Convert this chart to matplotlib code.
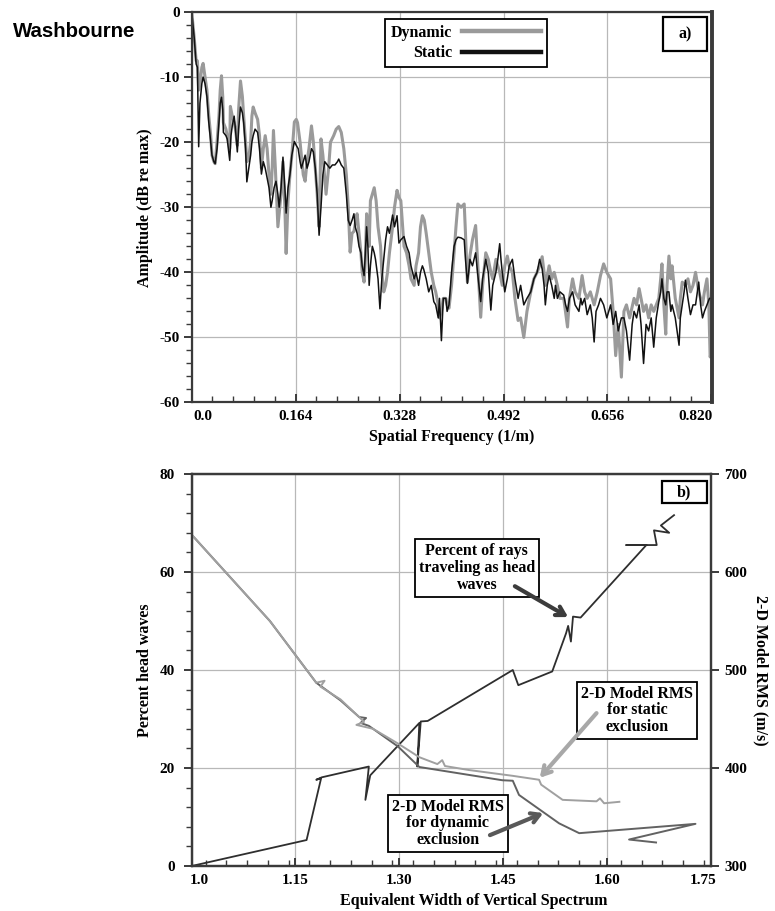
"""
Washbourne figure: a) amplitude spectra for dynamic / static exclusion,
b) percent head waves and 2-D model RMS vs equivalent width of vertical spectrum.
"""
import matplotlib
matplotlib.use("Agg")
import matplotlib.pyplot as plt
from matplotlib.ticker import MultipleLocator
from matplotlib.patches import Rectangle
from matplotlib.transforms import offset_copy

# --------------------------------------------------------------------------- #
# panel a) -- spectra (values read off the picture)
freq_dyn = [0.000, 0.004, 0.007, 0.009, 0.011, 0.013, 0.016, 0.018, 0.021, 0.024,
            0.027, 0.030, 0.032, 0.035, 0.037, 0.040, 0.043, 0.045, 0.047, 0.049,
            0.050, 0.054, 0.056, 0.060, 0.061, 0.064, 0.067, 0.069, 0.072, 0.074,
            0.077, 0.080, 0.082, 0.085, 0.087, 0.090, 0.093, 0.095, 0.097, 0.100,
            0.104, 0.107, 0.110, 0.113, 0.116, 0.119, 0.122, 0.125, 0.127, 0.129,
            0.132, 0.136, 0.138, 0.141, 0.144, 0.147, 0.149, 0.152, 0.155, 0.158,
            0.162, 0.165, 0.167, 0.171, 0.173, 0.176, 0.179, 0.182, 0.185, 0.189,
            0.192, 0.195, 0.198, 0.201, 0.204, 0.207, 0.210, 0.212, 0.216, 0.219,
            0.224, 0.228, 0.232, 0.236, 0.240, 0.244, 0.247, 0.250, 0.253, 0.256,
            0.259, 0.261, 0.264, 0.267, 0.269, 0.272, 0.274, 0.276, 0.278, 0.280,
            0.282, 0.285, 0.288, 0.291, 0.294, 0.298, 0.300, 0.303, 0.306, 0.309,
            0.312, 0.317, 0.320, 0.324, 0.327, 0.330, 0.335, 0.339, 0.343, 0.346,
            0.351, 0.354, 0.358, 0.361, 0.364, 0.367, 0.370, 0.374, 0.378, 0.382,
            0.385, 0.389, 0.391, 0.394, 0.397, 0.401, 0.403, 0.406, 0.410, 0.414,
            0.417, 0.420, 0.425, 0.430, 0.432, 0.435, 0.439, 0.443, 0.448, 0.451,
            0.456, 0.459, 0.464, 0.468, 0.472, 0.475, 0.480, 0.483, 0.486, 0.490,
            0.494, 0.498, 0.501, 0.506, 0.510, 0.515, 0.519, 0.524, 0.529, 0.535,
            0.540, 0.545, 0.549, 0.553, 0.556, 0.558, 0.564, 0.568, 0.572, 0.577,
            0.581, 0.587, 0.593, 0.596, 0.601, 0.605, 0.611, 0.616, 0.620, 0.624,
            0.629, 0.635, 0.640, 0.645, 0.650, 0.655, 0.661, 0.665, 0.669, 0.673,
            0.678, 0.682, 0.686, 0.691, 0.698, 0.702, 0.706, 0.709, 0.713, 0.717,
            0.721, 0.725, 0.729, 0.733, 0.737, 0.740, 0.742, 0.745, 0.748, 0.750,
            0.753, 0.756, 0.758, 0.763, 0.769, 0.771, 0.774, 0.779, 0.783, 0.787,
            0.791, 0.795, 0.800, 0.806, 0.809, 0.813, 0.816, 0.818, 0.821]
amp_dyn = [0.0, -4.0, -7.5, -7.5, -12.0, -11.0, -8.5, -7.9, -10.0, -12.0,
           -16.0, -19.0, -22.0, -23.0, -23.3, -20.0, -16.0, -12.0, -9.8, -13.0,
           -17.0, -18.0, -19.0, -21.0, -14.5, -16.0, -17.0, -18.0, -20.5, -15.0,
           -10.6, -13.0, -16.0, -20.0, -23.0, -22.5, -20.0, -16.0, -14.6, -15.5,
           -16.5, -19.0, -24.0, -21.0, -19.0, -21.0, -25.0, -28.0, -24.0, -18.2,
           -24.0, -33.0, -31.0, -28.0, -23.0, -30.0, -37.1, -29.0, -25.0, -22.0,
           -16.9, -16.5, -17.0, -20.0, -22.0, -25.0, -26.0, -23.0, -21.0, -17.5,
           -20.0, -24.0, -28.0, -33.0, -19.5, -22.0, -25.5, -28.0, -24.0, -20.0,
           -19.0, -18.0, -17.6, -18.5, -21.0, -25.0, -30.0, -36.9, -34.0, -33.7,
           -32.0, -31.0, -34.0, -37.0, -40.0, -41.5, -38.0, -31.0, -33.0, -36.0,
           -29.0, -28.0, -27.0, -29.0, -33.0, -36.0, -40.0, -43.0, -42.0, -40.0,
           -37.0, -33.0, -30.0, -27.4, -28.5, -29.0, -36.0, -37.0, -39.0, -41.0,
           -42.0, -39.0, -37.0, -33.0, -31.3, -32.0, -34.0, -37.0, -40.0, -42.0,
           -43.0, -45.0, -47.0, -46.0, -44.0, -44.0, -45.0, -45.5, -42.0, -37.0,
           -33.0, -29.5, -30.0, -29.5, -34.0, -41.5, -37.5, -35.0, -32.8, -38.0,
           -46.9, -42.0, -37.0, -38.0, -40.0, -41.0, -38.0, -39.0, -40.0, -42.0,
           -39.0, -37.5, -39.0, -40.0, -44.0, -47.4, -47.0, -50.0, -46.0, -43.0,
           -41.0, -40.0, -39.0, -37.6, -40.0, -42.0, -39.0, -41.0, -40.0, -42.0,
           -44.0, -44.0, -48.4, -44.0, -41.0, -43.0, -44.0, -40.5, -43.0, -44.0,
           -43.0, -45.0, -43.0, -40.5, -38.7, -40.0, -41.0, -46.0, -52.8, -48.0,
           -56.1, -46.0, -45.0, -47.0, -44.0, -45.0, -42.5, -44.0, -46.0, -45.0,
           -47.0, -45.0, -46.0, -45.0, -44.0, -41.0, -38.7, -45.0, -49.5, -42.0,
           -37.5, -41.0, -39.0, -44.0, -47.0, -44.0, -41.5, -42.0, -41.0, -43.0,
           -42.0, -40.0, -43.0, -45.0, -43.0, -41.0, -45.0, -53.0, -52.0]

freq_sta = [0.000, 0.004, 0.007, 0.009, 0.011, 0.013, 0.016, 0.018, 0.021, 0.024,
            0.027, 0.030, 0.032, 0.035, 0.037, 0.040, 0.043, 0.045, 0.047, 0.049,
            0.050, 0.054, 0.056, 0.060, 0.062, 0.064, 0.067, 0.069, 0.072, 0.074,
            0.077, 0.080, 0.082, 0.085, 0.087, 0.090, 0.093, 0.095, 0.097, 0.100,
            0.104, 0.107, 0.110, 0.113, 0.116, 0.119, 0.122, 0.125, 0.127, 0.130,
            0.133, 0.136, 0.138, 0.141, 0.144, 0.147, 0.149, 0.152, 0.155, 0.158,
            0.162, 0.165, 0.168, 0.171, 0.173, 0.176, 0.179, 0.182, 0.185, 0.189,
            0.192, 0.195, 0.198, 0.201, 0.204, 0.207, 0.210, 0.214, 0.218, 0.222,
            0.226, 0.230, 0.232, 0.236, 0.240, 0.244, 0.247, 0.250, 0.253, 0.256,
            0.258, 0.261, 0.264, 0.267, 0.269, 0.272, 0.274, 0.276, 0.278, 0.280,
            0.282, 0.285, 0.288, 0.290, 0.294, 0.297, 0.300, 0.303, 0.306, 0.309,
            0.312, 0.317, 0.320, 0.324, 0.327, 0.330, 0.335, 0.339, 0.343, 0.346,
            0.351, 0.354, 0.358, 0.361, 0.364, 0.366, 0.370, 0.374, 0.378, 0.382,
            0.385, 0.389, 0.391, 0.394, 0.397, 0.401, 0.403, 0.406, 0.410, 0.414,
            0.417, 0.420, 0.425, 0.430, 0.432, 0.435, 0.437, 0.439, 0.443, 0.448,
            0.451, 0.456, 0.459, 0.464, 0.468, 0.472, 0.475, 0.480, 0.483, 0.486,
            0.488, 0.490, 0.494, 0.498, 0.501, 0.506, 0.510, 0.515, 0.519, 0.524,
            0.529, 0.535, 0.540, 0.545, 0.549, 0.553, 0.556, 0.558, 0.561, 0.564,
            0.568, 0.572, 0.574, 0.577, 0.581, 0.587, 0.590, 0.593, 0.596, 0.601,
            0.605, 0.611, 0.614, 0.616, 0.620, 0.624, 0.629, 0.632, 0.635, 0.638,
            0.642, 0.645, 0.650, 0.655, 0.661, 0.665, 0.669, 0.673, 0.678, 0.682,
            0.686, 0.691, 0.695, 0.698, 0.702, 0.706, 0.709, 0.713, 0.717, 0.721,
            0.725, 0.729, 0.733, 0.737, 0.740, 0.742, 0.745, 0.748, 0.750, 0.753,
            0.756, 0.758, 0.763, 0.769, 0.771, 0.774, 0.777, 0.779, 0.783, 0.787,
            0.791, 0.795, 0.800, 0.803, 0.806, 0.809, 0.813, 0.817, 0.821]
amp_sta = [0.0, -4.0, -8.0, -8.5, -20.7, -14.0, -11.0, -10.0, -11.0, -13.0,
           -17.0, -20.0, -22.0, -23.0, -23.3, -21.0, -17.0, -14.0, -13.1, -15.0,
           -18.5, -19.0, -19.5, -22.8, -19.0, -17.5, -16.0, -18.0, -21.5, -18.0,
           -14.6, -15.5, -17.0, -21.0, -26.1, -24.0, -22.0, -20.0, -19.0, -18.0,
           -18.5, -21.0, -24.9, -23.0, -24.0, -25.5, -27.0, -30.0, -29.0, -27.0,
           -26.0, -28.0, -30.0, -27.0, -22.3, -27.0, -30.9, -27.0, -25.0, -22.0,
           -19.9, -20.5, -21.0, -23.0, -24.0, -23.0, -22.0, -24.0, -23.0, -21.0,
           -21.5, -24.0, -28.0, -34.3, -30.0, -25.0, -23.0, -23.5, -24.0, -23.5,
           -23.5, -23.0, -22.6, -23.5, -24.0, -28.0, -32.0, -32.8, -32.0, -31.0,
           -33.0, -34.0, -36.0, -37.0, -39.0, -40.5, -37.0, -33.0, -36.0, -42.0,
           -39.0, -36.0, -37.0, -38.0, -41.0, -45.6, -41.0, -38.0, -35.0, -33.0,
           -34.0, -31.2, -33.0, -31.3, -35.5, -35.0, -34.5, -36.0, -37.0, -39.0,
           -41.0, -40.0, -42.0, -40.0, -39.0, -39.5, -41.0, -43.0, -42.0, -44.5,
           -45.0, -47.0, -44.0, -50.5, -44.0, -44.0, -46.0, -45.0, -40.0, -36.0,
           -35.0, -34.6, -34.7, -35.0, -38.0, -41.7, -40.0, -38.0, -39.0, -37.0,
           -40.0, -44.5, -41.0, -38.0, -40.0, -45.8, -42.0, -40.0, -38.0, -35.6,
           -38.0, -40.0, -43.0, -41.0, -39.0, -38.0, -41.0, -44.0, -42.0, -45.0,
           -44.0, -43.0, -41.0, -40.0, -38.0, -39.5, -42.0, -45.0, -42.0, -40.5,
           -42.0, -44.0, -42.0, -44.0, -43.0, -43.5, -45.0, -46.0, -44.0, -43.0,
           -45.0, -46.0, -44.0, -45.0, -44.0, -46.5, -45.0, -47.0, -50.7, -46.0,
           -45.0, -44.0, -45.0, -47.0, -45.0, -48.0, -46.0, -49.0, -47.0, -47.0,
           -49.0, -53.5, -48.0, -46.0, -47.0, -45.0, -48.0, -54.0, -48.0, -49.0,
           -47.0, -51.5, -47.0, -44.5, -43.0, -41.0, -44.0, -45.0, -43.0, -43.0,
           -46.0, -45.0, -47.0, -51.2, -47.0, -45.0, -43.0, -41.2, -44.0, -46.5,
           -45.0, -45.0, -41.5, -45.0, -47.0, -46.0, -45.0, -44.0, -44.0]

freq_ticks = [0.0, 0.164, 0.328, 0.492, 0.656, 0.820]
freq_labels = ["0.0", "0.164", "0.328", "0.492", "0.656", "0.820"]

# panel b) -- percent head waves (left axis) and RMS (right axis, m/s)
head_w = [1.000, 1.166, 1.187, 1.180, 1.188, 1.256, 1.251, 1.258, 1.329, 1.326,
          1.331, 1.341, 1.464, 1.472, 1.521, 1.541, 1.544, 1.548, 1.551, 1.562,
          1.657, 1.628, 1.672, 1.668, 1.690, 1.678, 1.697]
head_pct = [0.0, 5.3, 17.9, 17.6, 18.1, 20.3, 13.5, 18.5, 29.2, 20.3,
            29.5, 29.6, 40.0, 36.9, 39.7, 47.5, 49.0, 45.8, 50.9, 50.7,
            65.5, 65.5, 65.5, 68.5, 68.0, 69.5, 71.6]

rms_sta_w = [1.000, 1.113, 1.180, 1.192, 1.186, 1.215, 1.242, 1.249, 1.238, 1.262,
             1.298, 1.329, 1.355, 1.362, 1.366, 1.400, 1.464, 1.502, 1.505, 1.536,
             1.585, 1.590, 1.596, 1.618]
rms_sta = [638, 550, 487, 489, 483, 470, 452, 447, 444, 440,
           425, 411, 404, 408, 402, 398, 392, 388, 383, 367.5,
           366, 369, 364, 365.5]

rms_dyn_w = [1.000, 1.113, 1.180, 1.215, 1.242, 1.252, 1.244, 1.256, 1.298, 1.329,
             1.449, 1.464, 1.473, 1.507, 1.531, 1.560, 1.728, 1.632, 1.671]
rms_dyn = [638, 550, 487, 469, 452, 451, 446, 443, 422, 401,
           387.5, 387, 372.5, 355.5, 343.5, 333.5, 343, 327, 324]

width_ticks = [1.0, 1.15, 1.30, 1.45, 1.60, 1.75]
width_labels = ["1.0", "1.15", "1.30", "1.45", "1.60", "1.75"]

# --------------------------------------------------------------------------- #
plt.rcParams["font.family"] = ["Liberation Serif", "DejaVu Serif"]
plt.rcParams["font.weight"] = "bold"
plt.rcParams["axes.labelweight"] = "bold"
plt.rcParams["axes.unicode_minus"] = False

DYN_GRAY = "#9a9a9a"
AX_COL = "#3a3a3a"
GRID = "#b8b8b8"
W, H = 775, 911

fig = plt.figure(figsize=(W / 100, H / 100), dpi=100)


def px_axes(x0, y0, x1, y1):
    return fig.add_axes([x0 / W, 1 - y1 / H, (x1 - x0) / W, (y1 - y0) / H])


def style_axes(ax):
    ax.grid(True, which="major", color=GRID, lw=0.9)
    ax.set_axisbelow(True)
    for s in ax.spines.values():
        s.set_color(AX_COL)
        s.set_linewidth(1.6)
    ax.tick_params(axis="x", which="both", direction="in", colors=AX_COL,
                   labelcolor="black", labelsize=11, pad=5.5)
    ax.tick_params(axis="x", which="major", length=6, width=1.4)
    ax.tick_params(axis="x", which="minor", length=4, width=1.0)
    ax.tick_params(axis="y", which="both", direction="out", colors=AX_COL,
                   labelcolor="black", labelsize=11)
    ax.tick_params(axis="y", which="major", length=6, width=1.4)
    ax.tick_params(axis="y", which="minor", length=4, width=1.0)


def shift_label(lab, dx=0, dy=0):
    lab.set_transform(offset_copy(lab.get_transform(), fig=fig, x=dx, y=dy, units="dots"))


# ---- a) ---------------------------------------------------------------- #
ax1 = px_axes(191.7, 12, 711.7, 402.5)
style_axes(ax1)
ax1.tick_params(axis="y", pad=2.5)
ax1.plot(freq_dyn, amp_dyn, color=DYN_GRAY, lw=2.2, label="Dynamic")
ax1.plot(freq_sta, amp_sta, color="#111111", lw=1.1, label="Static")
ax1.set_xlim(0, 0.8205)
ax1.set_ylim(-60, 0)
ax1.set_xticks(freq_ticks, freq_labels)
ax1.xaxis.set_minor_locator(MultipleLocator(0.0328))
ax1.yaxis.set_major_locator(MultipleLocator(10))
ax1.yaxis.set_minor_locator(MultipleLocator(2))
ax1.spines["right"].set_linewidth(2.8)
ax1.set_xlabel("Spatial Frequency (1/m)", fontsize=11.5, va="top")
ax1.xaxis.set_label_coords(0.5, -0.069)
ax1.set_ylabel("Amplitude (dB re max)", fontsize=11.5)
ax1.yaxis.set_label_coords(-0.074, 0.5)

xl = ax1.get_xticklabels()
shift_label(xl[0], dx=11)
shift_label(xl[-1], dx=-16)
shift_label(ax1.get_yticklabels()[0], dy=5)

leg = ax1.legend(loc="upper left", bbox_to_anchor=(0.3717, 0.982), markerfirst=False,
                 fancybox=False, framealpha=1, edgecolor="black", borderpad=0.35,
                 handlelength=5.0, handletextpad=0.6, labelspacing=0.3,
                 borderaxespad=0, prop=dict(weight="bold", size=11.5))
leg.get_frame().set_linewidth(1.3)
for ln in leg.get_lines():
    ln.set_linewidth(3.2)

ax1.add_patch(Rectangle((0.906, 0.900), 0.0855, 0.087, transform=ax1.transAxes,
                        facecolor="white", edgecolor="black", lw=1.6, zorder=5))
ax1.text(0.9487, 0.9437, "a)", transform=ax1.transAxes, ha="center", va="center",
         fontsize=11.5, zorder=6)

# ---- b) ---------------------------------------------------------------- #
ax = px_axes(191.7, 474, 710.7, 866)
style_axes(ax)
ax.tick_params(axis="y", pad=6)
ax.plot(head_w, head_pct, color="#2e2e2e", lw=1.3)
ax.set_xlim(1.0, 1.75)
ax.set_ylim(0, 80)
ax.set_xticks(width_ticks, width_labels)
ax.xaxis.set_minor_locator(MultipleLocator(0.03))
ax.yaxis.set_major_locator(MultipleLocator(20))
ax.yaxis.set_minor_locator(MultipleLocator(4))
ax.set_xlabel("Equivalent Width of Vertical Spectrum", fontsize=11.5, va="top")
ax.xaxis.set_label_coords(0.544, -0.069)
ax.set_ylabel("Percent head waves", fontsize=11.5)
ax.yaxis.set_label_coords(-0.0745, 0.5)

xl = ax.get_xticklabels()
shift_label(xl[0], dx=8)
shift_label(xl[-1], dx=-8)
shift_label(ax.get_yticklabels()[0], dy=5)

ax2 = ax.twinx()
ax2.plot(rms_dyn_w, rms_dyn, color="#626262", lw=1.4)
ax2.plot(rms_sta_w, rms_sta, color="#a0a0a0", lw=1.4)
ax2.set_ylim(300, 700)
ax2.yaxis.set_major_locator(MultipleLocator(100))
for s in ax2.spines.values():
    s.set_color(AX_COL)
    s.set_linewidth(1.6)
ax2.tick_params(axis="y", direction="out", length=6, width=1.4, colors=AX_COL,
                labelcolor="black", labelsize=11, pad=4)
shift_label(ax2.get_yticklabels()[0], dy=4)
ax2.set_ylabel("2-D Model RMS (m/s)", fontsize=11.5, rotation=270,
               va="bottom", ha="center")
ax2.yaxis.set_label_coords(1.081, 0.5)

box = dict(boxstyle="square,pad=0.25", facecolor="white", edgecolor="black", lw=1.3)
ax2.text(1.412, 604, "Percent of rays\ntraveling as head\nwaves", ha="center",
         va="center", fontsize=11.5, linespacing=1.05, bbox=box, zorder=5)
ax2.text(1.644, 459, "2-D Model RMS\nfor static\nexclusion", ha="center",
         va="center", fontsize=11.5, linespacing=1.05, bbox=box, zorder=5)
ax2.text(1.370, 343.5, "2-D Model RMS\nfor dynamic\nexclusion", ha="center",
         va="center", fontsize=11.5, linespacing=1.05, bbox=box, zorder=5)

arrow = dict(arrowstyle="->,head_length=0.6,head_width=0.35", lw=3,
             shrinkA=0, shrinkB=0)
ax2.annotate("", xy=(1.544, 554), xytext=(1.467, 585.5),
             arrowprops=dict(arrow, color="#3c3c3c"), zorder=7)
ax2.annotate("", xy=(1.503, 390), xytext=(1.585, 456),
             arrowprops=dict(arrow, color="#a8a8a8"), zorder=7)
ax2.annotate("", xy=(1.508, 354), xytext=(1.431, 331.5),
             arrowprops=dict(arrow, color="#595959"), zorder=7)

ax2.add_patch(Rectangle((0.9056, 0.9253), 0.0867, 0.0577, transform=ax2.transAxes,
                        facecolor="white", edgecolor="black", lw=1.6, zorder=5))
ax2.text(0.949, 0.954, "b)", transform=ax2.transAxes, ha="center", va="center",
         fontsize=11.5, zorder=6)

# ---- stray header text from the page, cut by the plot image -------------- #
fig.text(13 / W, 1 - 37 / H, "Washbourne", family=["Liberation Sans", "DejaVu Sans"],
         weight="bold", fontsize=14.7, ha="left", va="baseline", zorder=1)
fig.patches.append(Rectangle((137 / W, 1 - 50 / H), 22 / W, 42 / H,
                             transform=fig.transFigure, facecolor="white",
                             edgecolor="none", zorder=2))

fig.savefig("out.png", dpi=100)
